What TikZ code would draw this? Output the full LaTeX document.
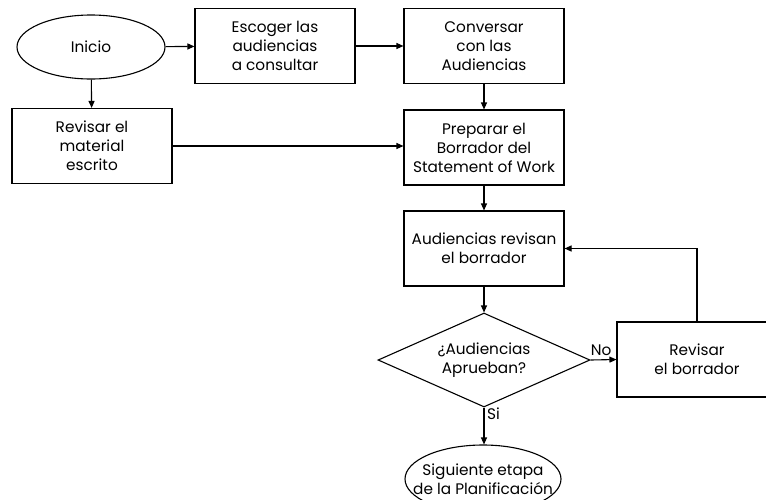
\documentclass[tikz,border=0pt]{standalone}
\usepackage{fontspec}
\setmainfont{Poppins}
\usetikzlibrary{shapes.geometric,arrows.meta}
\begin{document}
\begin{tikzpicture}[x=1pt,y=-1pt,
  every node/.style={font=\fontsize{15.3}{19}\selectfont, align=center, inner sep=0pt},
  stepbox/.style={draw, line width=1.1pt, minimum width=160pt, minimum height=75pt},
  oval/.style={draw, line width=1.1pt, ellipse, minimum width=148pt, minimum height=64pt},
  choice/.style={draw, line width=1.1pt, diamond, minimum width=212pt, minimum height=94pt},
  flow/.style={line width=1.1pt, -{Triangle[length=7pt,width=6pt]}}]
\clip (0,0) rectangle (766,499);
\fill[white] (0,0) rectangle (766,499);

\node[oval] (inicio) at (91,47) {Inicio};
\node[stepbox] (escoger) at (275,46) {Escoger las\\audiencias\\a consultar};
\node[stepbox] (conversar) at (484,46) {Conversar\\con las\\Audiencias};
\node[stepbox] (material) at (92,146) {Revisar el\\material\\escrito};
\node[stepbox] (preparar) at (484,147.5) {Preparar el\\Borrador del\\Statement of Work};
\node[stepbox] (revisan) at (484,248.5) {Audiencias revisan\\el borrador};
\node[choice] (aprueban) at (484,360) {};
\node at (aprueban.center) {¿Audiencias\\Aprueban?};
\node[stepbox] (revisar) at (697,359.5) {Revisar\\el borrador};
\node[oval, minimum width=156pt, minimum height=68pt] (siguiente) at (483,479) {};
\node at (siguiente.center) {Siguiente etapa\\de la Planificación};

\draw[flow] (inicio) -- (escoger);
\draw[flow] (escoger) -- (conversar);
\draw[flow] (conversar) -- (preparar);
\draw[flow] (inicio) -- (material);
\draw[flow] (material.east) -- (preparar.west |- material.east);
\draw[flow] (preparar) -- (revisan);
\draw[flow] (revisan) -- (aprueban);
\draw[flow] (aprueban.east) -- (revisar.west);
\node[anchor=south west] (no) at ([xshift=0pt,yshift=4pt]aprueban.east) {No};
\draw[flow] (revisar.north) |- (revisan.east);
\draw[flow] (aprueban.south) -- (siguiente.north -| aprueban.south);
\node[anchor=north west] (si) at ([xshift=3pt,yshift=0pt]aprueban.south) {Si};
\end{tikzpicture}
\end{document}
